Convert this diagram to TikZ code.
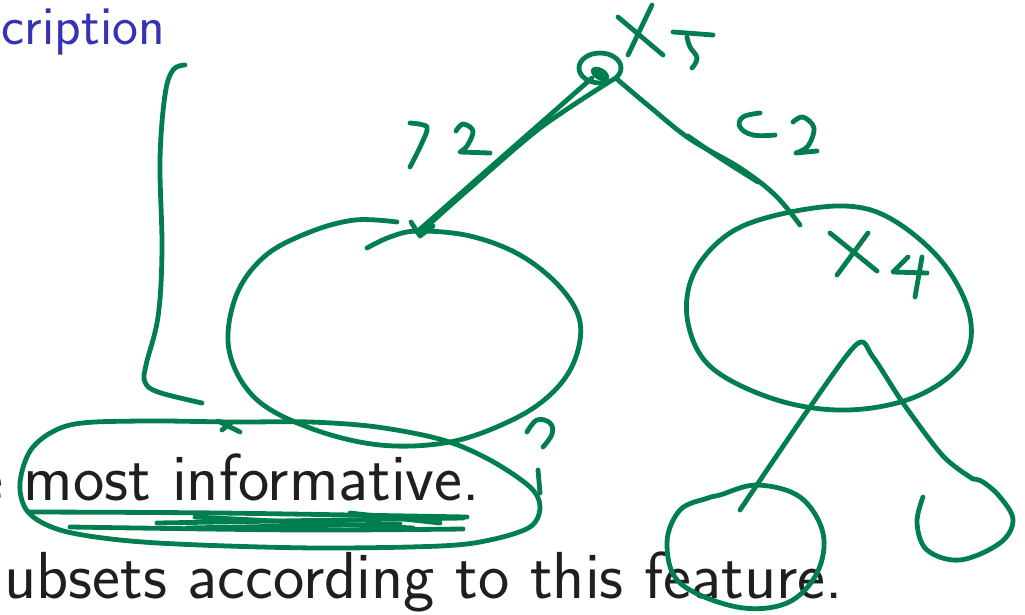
\documentclass[tikz,border=0pt]{standalone}
\usetikzlibrary{calc}
\definecolor{inkgreen}{RGB}{0,126,78}
\definecolor{titleblue}{RGB}{51,51,179}
\tikzset{
  ink/.style={draw=inkgreen, line width=4.8pt, line cap=round, line join=round},
  titletext/.style={inner sep=0pt, text=titleblue, font=\fontsize{55}{64}\selectfont\sffamily},
  bodytext/.style={inner sep=0pt, text=black!88, font=\fontsize{66.5}{76}\selectfont\sffamily},
}
\begin{document}
\begin{tikzpicture}[x=1pt,y=-1pt]
\useasboundingbox (0,0) rectangle (1025,614);
\clip (0,0) rectangle (1025,614);

% slide text
\node[titletext, anchor=base east] (title) at (165,44) {cription};
\node[bodytext, anchor=base east] (line1) at (480,500) {e most informative.};
\node[bodytext, anchor=base east] (line2) at (843,598) {ubsets according to this feature.};

% named points of the tree
\coordinate (root) at (600,68);
\coordinate (lefttop) at (418,231);
\coordinate (righttop) at (800,225);
\coordinate (apex) at (857,344);
\coordinate (leafL) at (740,510);
\coordinate (leafR) at (973,479);

% left bracket
\draw[ink] plot[smooth, tension=0.6] coordinates {(185,65) (173,70) (165,95) (160,160) (162,250) (158,317) (146,365) (145,382) (158,392) (202,403)};

% root circle x5
\draw[ink] (root) ellipse [x radius=21, y radius=15];
\fill[inkgreen, rotate around={-30:(600,74)}] (600,74) ellipse [x radius=10, y radius=6];

% edge root -> left node (double stroke) with arrow tick
\draw[ink] (lefttop) -- (592,78);
\draw[ink] plot[smooth, tension=0.5] coordinates {(424,229) (470,188) (540,128) (609,82)};
\draw[ink] (411,222) -- (420,236) -- (433,226);

% edge root -> right node (double stroke)
\draw[ink] plot[smooth, tension=0.6] coordinates {(618,80) (650,107) (690,139) (740,168) (775,195) (righttop)};
\draw[ink] plot[smooth, tension=0.6] coordinates {(688,136) (720,158) (758,182)};

% label x5
\draw[ink] (618,17) -- (663,55);
\draw[ink] (652,5) -- (628,55);
\draw[ink] (673,32) -- (713,35);
\draw[ink] plot[smooth, tension=0.7] coordinates {(687,37) (690,47) (697,58) (692,68)};

% label >2
\draw[ink] plot[smooth, tension=0.5] coordinates {(410,123) (427,127) (421,145) (410,167)};
\draw[ink] plot[smooth, tension=0.6] coordinates {(456,131) (463,124) (473,131) (467,146) (460,152)} -- (490,153);

% label <2
\draw[ink] plot[smooth, tension=0.7] coordinates {(760,113) (743,117) (740,127) (753,135) (775,135)};
\draw[ink] plot[smooth, tension=0.6] coordinates {(793,122) (803,117) (814,128) (808,146) (796,153)} -- (817,151);

% left node (big ellipse)
\draw[ink] plot[smooth, tension=0.6] coordinates {(367,248) (390,237) (lefttop) (470,236) (520,255) (560,287) (580,322) (574,362) (550,395) (510,421) (450,442) (380,445) (310,428) (255,398) (229,350) (236,296) (265,256) (310,232) (355,220) (397,222)};

% right node x4
\draw[ink] plot[smooth cycle, tension=0.6] coordinates {(845,206) (893,220) (943,263) (970,317) (962,363) (915,397) (847,410) (777,400) (712,368) (688,323) (693,275) (727,235) (777,215)};
\draw[ink] (830,233) -- (877,271);
\draw[ink] (868,233) -- (837,275);
\draw[ink] (908,257) -- (893,272) -- (927,273);
\draw[ink] (922,257) -- (915,297);

% branches of x4
\draw[ink] plot[smooth, tension=0.5] coordinates {(leafL) (810,407) (apex) (873,357) (903,403) (943,456) (leafR)};

% leaves
\draw[ink] plot[smooth cycle, tension=0.6] coordinates {(720,495) (757,485) (800,497) (823,533) (817,573) (787,603) (737,607) (680,583) (667,543) (680,510) (708,498)};
\draw[ink] plot[smooth, tension=0.6] coordinates {(923,497) (917,523) (927,550) (960,560) (1000,543) (1013,520) (1000,497) (983,482) (leafR)};

% loop around "most informative."
\draw[ink] plot[smooth cycle, tension=0.55] coordinates {(70,425) (140,421) (233,422) (310,422) (377,427) (443,440) (490,460) (530,487) (540,507) (530,527) (490,540) (440,546) (320,548) (200,545) (120,540) (60,530) (28,512) (20,483) (33,447)};
\draw[ink] (218,421) -- (240,432);
\draw[ink] (222,430) -- (232,422);

% underlines and scribbles
\draw[ink] plot[smooth, tension=0.5] coordinates {(30,512) (220,513) (467,517)};
\draw[ink] plot[smooth, tension=0.5] coordinates {(70,527) (300,530) (463,529)};
\draw[ink] (157,523) -- (463,518);
\draw[ink] (187,528) -- (400,524);
\draw[ink] (195,517) -- (413,528);
\draw[ink] (350,513) -- (440,523);

% question mark
\draw[ink] plot[smooth, tension=0.7] coordinates {(527,432) (537,420) (550,423) (552,434) (543,447)};
\draw[ink] (538,470) -- (540,493);
\end{tikzpicture}
\end{document}
